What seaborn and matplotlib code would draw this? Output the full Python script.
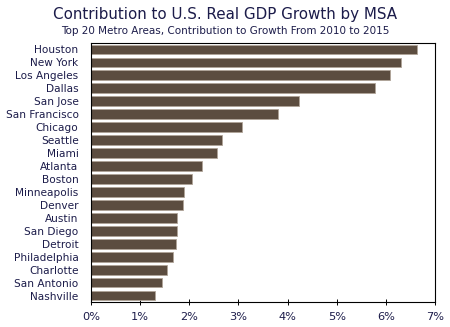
import matplotlib
matplotlib.use("Agg")
import matplotlib.pyplot as plt
import seaborn as sns
import pandas as pd
from matplotlib.ticker import FuncFormatter

cities = ["Houston", "New York", "Los Angeles", "Dallas", "San Jose", "San Francisco",
          "Chicago", "Seattle", "Miami", "Atlanta", "Boston", "Minneapolis", "Denver",
          "Austin", "San Diego", "Detroit", "Philadelphia", "Charlotte", "San Antonio",
          "Nashville"]
values = [6.64, 6.31, 6.08, 5.77, 4.23, 3.81, 3.07, 2.66, 2.56, 2.26, 2.06, 1.89, 1.88,
          1.74, 1.74, 1.72, 1.67, 1.54, 1.45, 1.30]
xticks = [0, 1, 2, 3, 4, 5, 6, 7]

df = pd.DataFrame({"city": cities, "value": values})

sns.set_theme(style="white")
plt.rcParams['font.family'] = ['DejaVu Sans']

text_color = "#1c1c4a"
fig = plt.figure(figsize=(4.5, 3.27), dpi=100)
ax = fig.add_axes([91/450, 1-302/327, 344/450, 259/327])

sns.barplot(data=df, x="value", y="city", orient="h", color="#5c4d40",
            saturation=1, width=0.76, edgecolor="#b0a498", linewidth=0.6, ax=ax)

ax.set_xlim(0, 7)
ax.set_xticks(xticks)
ax.xaxis.set_major_formatter(FuncFormatter(lambda v, p: f"{int(v)}%"))
ax.set_xlabel("")
ax.set_ylabel("")
for s in ax.spines.values():
    s.set_visible(True)
    s.set_color("black")
    s.set_linewidth(0.8)
ax.tick_params(axis="x", direction="inout", length=5, width=0.7, color="black",
               labelsize=8.2, labelcolor=text_color, pad=5, bottom=True)
ax.tick_params(axis="y", length=0, labelsize=7.6, labelcolor=text_color, pad=9)

fig.text(0.5 + 0.0, 1-15/327, "Contribution to U.S. Real GDP Growth by MSA", ha="center",
         va="center", fontsize=10.9, color=text_color)
fig.text(0.5, 1-31.5/327, "Top 20 Metro Areas, Contribution to Growth From 2010 to 2015",
         ha="center", va="center", fontsize=7.5, color=text_color)

fig.savefig("out.png", dpi=100)
